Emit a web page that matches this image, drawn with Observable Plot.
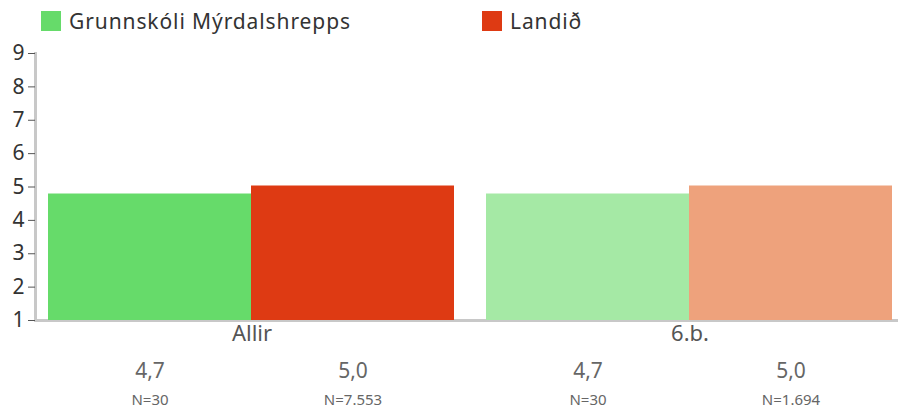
<!DOCTYPE html>
<html>
<head>
<meta charset="utf-8">
<script src="https://cdn.jsdelivr.net/npm/d3@7"></script>
<script src="https://cdn.jsdelivr.net/npm/@observablehq/plot@0.6"></script>
<style>
  html, body { margin: 0; padding: 0; background: #fff; }
  body { width: 898px; height: 417px; overflow: hidden; font-family: "Noto Sans", Lato, sans-serif; }
  .legend { position: relative; height: 42px; }
  .item { position: absolute; top: 7px; display: flex; align-items: center; font-size: 21px; color: #333; letter-spacing: 0.9px; }
  .sw { width: 20px; height: 20px; margin-right: 8px; }
</style>
</head>
<body>
<div class="legend" id="legend"></div>
<div id="chart"></div>
<script>
const groups = ["Allir", "6.b."];
const series = ["Grunnskóli Mýrdalshrepps", "Landið"];
const values = [[4.79, 5.03], [4.79, 5.03]];
const valueLabels = [["4,7", "5,0"], ["4,7", "5,0"]];
const nLabels = [["N=30", "N=7.553"], ["N=30", "N=1.694"]];
const colors = [["#66db6a", "#de3a13"], ["#a5e9a5", "#eea27c"]];
const legendColors = ["#66db6a", "#de3a13"];
const yTicks = [1, 2, 3, 4, 5, 6, 7, 8, 9];
const baseline = 1;

const legendX = [41, 482];
const legend = document.getElementById("legend");
series.forEach((s, i) => {
  const d = document.createElement("div");
  d.className = "item";
  d.style.left = legendX[i] + "px";
  d.innerHTML = `<span class="sw" style="background:${legendColors[i]}"></span><span>${s}</span>`;
  legend.appendChild(d);
});

const data = [];
groups.forEach((g, gi) => series.forEach((s, si) => data.push({
  group: g, series: s, value: values[gi][si], label: valueLabels[gi][si],
  n: nLabels[gi][si], color: colors[gi][si]
})));

const plot = Plot.plot({
  width: 898, height: 375,
  marginLeft: 35, marginRight: 0, marginTop: 11, marginBottom: 97,
  style: { fontFamily: "'Noto Sans', Lato, sans-serif", background: "transparent", overflow: "visible" },
  fx: { domain: groups, paddingInner: 13 / 438, paddingOuter: 0, axis: null },
  x: { domain: series, paddingInner: 0, paddingOuter: 0.0417, align: 0.706, axis: null },
  y: { domain: [1, 9], axis: null },
  color: { type: "identity" },
  marks: [
    Plot.ruleY([baseline], { stroke: "#c8c8c8", strokeWidth: 3, insetRight: -13 }),
    Plot.frame({ anchor: "left", stroke: "#c8c8c8", strokeWidth: 3, facetAnchor: "left" }),
    Plot.axisY({ ticks: yTicks, label: null, tickSize: 7, tickPadding: 4, fontSize: 21, color: "#333", stroke: "#555", tickFormat: d => String(d), facetAnchor: "left" }),
    Plot.barY(data, { fx: "group", x: "series", y1: baseline, y2: "value", fill: "color" }),
    Plot.text(groups, { fx: d => d, text: d => d, frameAnchor: "bottom", dy: 20, dx: 4, fontSize: 22, fill: "#555" }),
    Plot.text(data, { fx: "group", x: "series", text: "label", frameAnchor: "bottom", dy: 57, fontSize: 21, fill: "#666" }),
    Plot.text(data, { fx: "group", x: "series", text: "n", frameAnchor: "bottom", dy: 84, fontSize: 15, fill: "#666" })
  ]
});
document.getElementById("chart").appendChild(plot);
</script>
</body>
</html>
